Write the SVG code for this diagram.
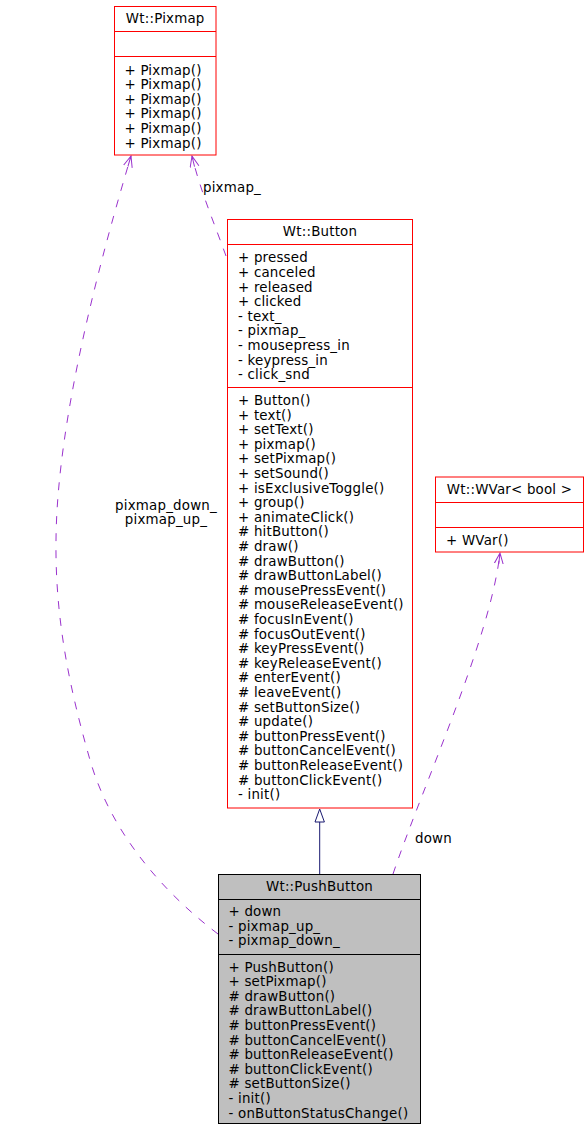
<svg xmlns="http://www.w3.org/2000/svg" width="587" height="1131" viewBox="0 0 587 1131">
<defs>
<style>
text { font-family: "DejaVu Sans", "Liberation Sans", sans-serif; font-size: 13.4px; letter-spacing: 0.2px; fill: #000; }
.t { text-anchor: middle; }
.box { fill: #fff; stroke: #ff0000; stroke-width: 1; }
.cur { fill: #bfbfbf; stroke: #000; stroke-width: 1; }
.sepr { stroke: #ff0000; stroke-width: 1; }
.sepk { stroke: #000; stroke-width: 1; }
.use { fill: none; stroke: #9a32cd; stroke-width: 1; stroke-dasharray: 8,9; }
.inh { fill: none; stroke: #191970; stroke-width: 1; }
</style>
<marker id="vee" markerUnits="userSpaceOnUse" markerWidth="14" markerHeight="12" refX="11" refY="5" orient="auto">
<path d="M0,0.5 L11,5 L0,9.5 M0,5 L11,5" fill="none" stroke="#9a32cd" stroke-width="1"/>
</marker>
</defs>
<rect width="587" height="1131" fill="#fff"/>

<g id="connectors">
<path class="use" d="M218,934 C160,890 110,830 90,760 C70,690 55,620 56,540 C57,420 100,260 131,156" marker-end="url(#vee)"/>
<path class="use" d="M226,256 C215,225 200,190 192,156" marker-end="url(#vee)"/>
<path class="use" d="M393,874 C425,780 490,640 500,553" marker-end="url(#vee)"/>
<line class="inh" x1="319.7" y1="822" x2="319.7" y2="874"/>
<polygon class="inh" points="319.7,809 315,822 324.4,822" style="fill:#fff"/>
<text x="203" y="191.5">pixmap_</text>
<text class="t" x="166" y="509.5">pixmap_down_</text>
<text class="t" x="166" y="524">pixmap_up_</text>
<text x="415" y="843">down</text>
</g>

<g id="pixmap">
<rect class="box" x="114.5" y="6.5" width="101.5" height="148.5"/>
<line class="sepr" x1="114.5" y1="31.5" x2="216" y2="31.5"/>
<line class="sepr" x1="114.5" y1="56.5" x2="216" y2="56.5"/>
<text class="t" x="165.2" y="23">Wt::Pixmap</text>
<text x="124.5" y="74.5">+ Pixmap()</text>
<text x="124.5" y="89.1">+ Pixmap()</text>
<text x="124.5" y="103.7">+ Pixmap()</text>
<text x="124.5" y="118.3">+ Pixmap()</text>
<text x="124.5" y="132.9">+ Pixmap()</text>
<text x="124.5" y="147.5">+ Pixmap()</text>
</g>

<g id="button">
<rect class="box" x="227.5" y="219.5" width="185" height="588.5"/>
<line class="sepr" x1="227.5" y1="244.5" x2="412.5" y2="244.5"/>
<line class="sepr" x1="227.5" y1="387.5" x2="412.5" y2="387.5"/>
<text class="t" x="320" y="236">Wt::Button</text>
<text x="238" y="262.3">+ pressed</text>
<text x="238" y="276.9">+ canceled</text>
<text x="238" y="291.5">+ released</text>
<text x="238" y="306.1">+ clicked</text>
<text x="238" y="320.7">- text_</text>
<text x="238" y="335.3">- pixmap_</text>
<text x="238" y="349.9">- mousepress_in</text>
<text x="238" y="364.5">- keypress_in</text>
<text x="238" y="379.1">- click_snd</text>
<text x="238" y="405">+ Button()</text>
<text x="238" y="419.6">+ text()</text>
<text x="238" y="434.2">+ setText()</text>
<text x="238" y="448.8">+ pixmap()</text>
<text x="238" y="463.4">+ setPixmap()</text>
<text x="238" y="478">+ setSound()</text>
<text x="238" y="492.6">+ isExclusiveToggle()</text>
<text x="238" y="507.2">+ group()</text>
<text x="238" y="521.8">+ animateClick()</text>
<text x="238" y="536.4"># hitButton()</text>
<text x="238" y="551"># draw()</text>
<text x="238" y="565.6"># drawButton()</text>
<text x="238" y="580.2"># drawButtonLabel()</text>
<text x="238" y="594.8"># mousePressEvent()</text>
<text x="238" y="609.4"># mouseReleaseEvent()</text>
<text x="238" y="624"># focusInEvent()</text>
<text x="238" y="638.6"># focusOutEvent()</text>
<text x="238" y="653.2"># keyPressEvent()</text>
<text x="238" y="667.8"># keyReleaseEvent()</text>
<text x="238" y="682.4"># enterEvent()</text>
<text x="238" y="697"># leaveEvent()</text>
<text x="238" y="711.6"># setButtonSize()</text>
<text x="238" y="726.2"># update()</text>
<text x="238" y="740.8"># buttonPressEvent()</text>
<text x="238" y="755.4"># buttonCancelEvent()</text>
<text x="238" y="770"># buttonReleaseEvent()</text>
<text x="238" y="784.6"># buttonClickEvent()</text>
<text x="238" y="799.2">- init()</text>
</g>

<g id="wvar">
<rect class="box" x="435.5" y="477" width="148" height="75"/>
<line class="sepr" x1="435.5" y1="502.5" x2="583.5" y2="502.5"/>
<line class="sepr" x1="435.5" y1="527.5" x2="583.5" y2="527.5"/>
<text class="t" x="509.5" y="493.5">Wt::WVar&lt; bool &gt;</text>
<text x="446" y="545.2">+ WVar()</text>
</g>

<g id="pushbutton">
<rect class="cur" x="218.5" y="874.5" width="202" height="249"/>
<line class="sepk" x1="218.5" y1="899.5" x2="420.5" y2="899.5"/>
<line class="sepk" x1="218.5" y1="954.5" x2="420.5" y2="954.5"/>
<text class="t" x="319.5" y="891">Wt::PushButton</text>
<text x="228.5" y="916">+ down</text>
<text x="228.5" y="930.6">- pixmap_up_</text>
<text x="228.5" y="945.2">- pixmap_down_</text>
<text x="228.5" y="971.5">+ PushButton()</text>
<text x="228.5" y="986.1">+ setPixmap()</text>
<text x="228.5" y="1000.7"># drawButton()</text>
<text x="228.5" y="1015.3"># drawButtonLabel()</text>
<text x="228.5" y="1029.9"># buttonPressEvent()</text>
<text x="228.5" y="1044.5"># buttonCancelEvent()</text>
<text x="228.5" y="1059.1"># buttonReleaseEvent()</text>
<text x="228.5" y="1073.7"># buttonClickEvent()</text>
<text x="228.5" y="1088.3"># setButtonSize()</text>
<text x="228.5" y="1102.9">- init()</text>
<text x="228.5" y="1117.5">- onButtonStatusChange()</text>
</g>
</svg>
